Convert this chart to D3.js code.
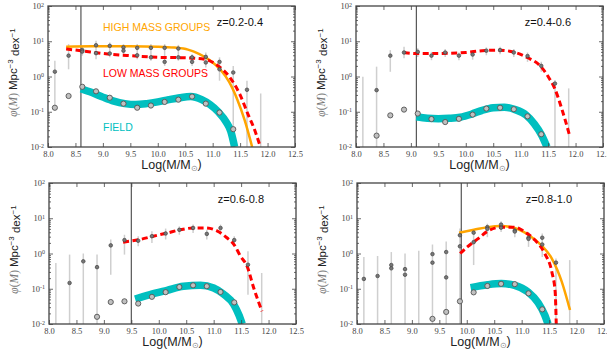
<!DOCTYPE html>
<html>
<head>
<meta charset="utf-8">
<script src="https://cdn.jsdelivr.net/npm/d3@7"></script>
<style>
  body { margin: 0; background: #fff; }
  svg { display: block; }
</style>
</head>
<body>
<div id="chart"></div>
<script>
// mass bin centres, shared by all panels
const massBins = [8.125, 8.375, 8.625, 8.875, 9.125, 9.375, 9.625, 9.875,
  10.125, 10.375, 10.625, 10.875, 11.125, 11.375, 11.625, 11.875]

const xTicks = [8.0, 8.5, 9.0, 9.5, 10.0, 10.5, 11.0, 11.5, 12.0, 12.5]
const yTicks = [0.01, 0.1, 1, 10, 100]
const zLabels = ["z=0.2-0.4", "z=0.4-0.6", "z=0.6-0.8", "z=0.8-1.0"]
const massCuts = [8.6, 9.1, 9.5, 9.9]

// z=0.2-0.4
const field1 = [0.13, 0.28, 0.51, 0.38, 0.25, 0.17, 0.13, 0.15, 0.19, 0.22, 0.27, 0.17, 0.095, 0.032, null, null]
const grpA1 = [1.37, 3.9, 5.6, 7.7, 7.4, 6.7, 6.5, 6.5, 6.5, 6.2, 3.5, 3.6, 2.6, 1.3, 0.42, null]
const grpB1 = [null, null, 5.1, 4.6, 4.5, 5.4, 4.0, 3.5, 2.6, 3.5, 2.6, 2.5, 1.6, null, null, null]
const errLo1 = [0.108, 1.6, 3.9, 3.1, 3.5, 4.0, 3.1, 2.8, 2.0, 2.8, 2.0, 1.8, 0.76, 0.01, 0.01, 0.01]
const errHi1 = [2.8, 8.3, 7.4, 10.3, 9.2, 8.3, 8.3, 8.3, 8.3, 7.9, 4.3, 4.8, 3.5, 2.0, 0.76, 0.33]
const fieldFit1 = [[8.6, 0.45], [8.8, 0.35], [9.0, 0.26], [9.2, 0.2], [9.4, 0.17], [9.6, 0.16], [9.8, 0.17],
  [10.0, 0.19], [10.2, 0.22], [10.4, 0.25], [10.6, 0.27], [10.8, 0.22], [10.95, 0.16], [11.1, 0.1],
  [11.25, 0.05], [11.33, 0.028], [11.4, 0.01]]
const highFit1 = [[8.33, 7.0], [8.8, 7.2], [9.5, 7.2], [10.0, 7.0], [10.3, 6.6], [10.55, 5.8], [10.75, 4.4],
  [10.95, 2.9], [11.15, 1.5], [11.3, 0.7], [11.45, 0.22], [11.58, 0.06], [11.72, 0.01]]
const lowFit1 = [[8.33, 6.0], [8.6, 5.4], [9.0, 4.5], [9.5, 3.9], [10.0, 3.5], [10.5, 3.4], [10.85, 3.1],
  [11.1, 2.0], [11.3, 1.0], [11.5, 0.3], [11.65, 0.08], [11.75, 0.035], [11.87, 0.01]]

// z=0.4-0.6
const field2 = [null, 0.021, 0.079, 0.115, 0.089, 0.062, 0.051, 0.063, 0.083, 0.123, 0.13, 0.118, 0.074, 0.023, null, null]
const grpA2 = [null, 0.41, 3.9, 4.8, 5.0, 3.9, 4.8, 3.9, 4.2, 5.4, 5.6, 4.8, 3.8, 2.0, 0.63, null]
const errLo2 = [0.01, 0.01, 1.36, 3.3, 3.6, 2.9, 3.6, 2.9, 3.0, 4.0, 4.3, 3.6, 2.6, 1.36, 0.01, 0.01]
const errHi2 = [0.98, 1.9, 5.6, 7.0, 6.3, 5.0, 6.0, 4.8, 5.6, 6.7, 7.0, 6.0, 4.8, 2.6, 0.79, 0.46]
const fieldFit2 = [[9.1, 0.072], [9.3, 0.065], [9.5, 0.063], [9.7, 0.065], [9.9, 0.07], [10.1, 0.085],
  [10.3, 0.11], [10.5, 0.13], [10.7, 0.135], [10.9, 0.115], [11.1, 0.08], [11.25, 0.045], [11.38, 0.022], [11.48, 0.01]]
const lowFit2 = [[8.87, 4.8], [9.1, 4.5], [9.5, 4.5], [10.0, 4.8], [10.3, 5.4], [10.6, 5.6], [10.9, 4.8],
  [11.13, 3.4], [11.37, 1.9], [11.5, 1.0], [11.62, 0.46], [11.75, 0.12], [11.9, 0.019]]

// z=0.6-0.8
const field3 = [null, null, null, 0.016, 0.042, 0.044, 0.038, 0.059, 0.080, 0.112, 0.125, 0.118, 0.081, 0.041, null, null]
const grpA3 = [null, 0.146, 0.6, 0.41, 1.7, 2.4, 2.3, 3.1, 3.7, 4.7, 5.3, 3.6, 5.3, 2.4, 0.48, null]
const errLo3 = [0.01, 0.01, 0.01, 0.01, 0.25, 0.93, 1.6, 2.0, 2.5, 3.4, 3.8, 2.5, 3.8, 1.6, 0.068, 0.01]
const errHi3 = [0.54, 0.93, 1.0, 0.93, 2.5, 3.4, 3.1, 4.3, 5.1, 5.9, 6.6, 4.7, 6.6, 3.1, 1.15, 0.28]
const fieldFit3 = [[9.57, 0.051], [9.84, 0.068], [10.15, 0.09], [10.45, 0.117], [10.76, 0.125], [11.0, 0.105],
  [11.18, 0.07], [11.37, 0.035], [11.46, 0.018], [11.52, 0.01]]
const lowFit3 = [[9.35, 2.1], [9.66, 2.5], [9.9, 3.1], [10.15, 3.8], [10.39, 4.7], [10.63, 5.3], [10.85, 5.3],
  [11.06, 4.4], [11.24, 2.8], [11.37, 1.8], [11.49, 0.83], [11.61, 0.43], [11.73, 0.105], [11.88, 0.023]]

// z=0.8-1.0
const field4 = [null, null, null, null, null, 0.014, 0.022, 0.044, 0.079, 0.12, 0.138, 0.135, 0.074, 0.026, null, null]
const grpA4 = [0.19, 0.23, 0.47, 0.36, null, 0.96, 1.1, 3.3, 3.9, 5.6, 6.6, 4.5, 2.8, 2.8, 0.55, null]
const grpB4 = [null, null, 0.38, 0.25, null, 0.55, 0.21, 1.6, 2.1, 5.0, 5.4, 4.2, 2.6, 1.8, null, null]
const errLo4 = [0.01, 0.01, 0.01, 0.01, 0.01, 0.01, 0.01, 0.01, 0.47, 2.9, 4.1, 2.9, 1.54, 0.8, 0.01, 0.01]
const errHi4 = [0.8, 0.85, 1.1, 1.0, 1.2, 1.8, 2.2, 5.1, 4.5, 7.0, 8.2, 5.6, 4.1, 3.7, 0.72, 0.65]
const fieldFit4 = [[10.07, 0.108], [10.38, 0.13], [10.63, 0.14], [10.87, 0.125], [11.12, 0.08], [11.3, 0.04],
  [11.42, 0.018], [11.48, 0.01]]
const highFit4 = [[9.86, 3.9], [10.13, 4.7], [10.38, 5.6], [10.63, 6.0], [10.87, 5.3], [11.12, 3.4],
  [11.36, 1.7], [11.55, 0.72], [11.73, 0.16], [11.88, 0.025]]
const lowFit4 = [[9.88, 1.0], [10.01, 1.54], [10.2, 2.6], [10.38, 4.3], [10.63, 5.6], [10.87, 5.6], [11.06, 4.1],
  [11.24, 2.4], [11.42, 1.0], [11.55, 0.3], [11.61, 0.083], [11.63, 0.01]]

const panels = [
  { left: 48, right: 295, top: 6, bottom: 147, field: field1, grp: [grpA1, grpB1], errLo: errLo1, errHi: errHi1,
    fieldFit: fieldFit1, highFit: highFit1, lowFit: lowFit1, legend: true },
  { left: 356, right: 603, top: 6, bottom: 147, field: field2, grp: [grpA2], errLo: errLo2, errHi: errHi2,
    fieldFit: fieldFit2, highFit: null, lowFit: lowFit2 },
  { left: 49, right: 296, top: 183, bottom: 324, field: field3, grp: [grpA3], errLo: errLo3, errHi: errHi3,
    fieldFit: fieldFit3, highFit: null, lowFit: lowFit3 },
  { left: 357, right: 604, top: 183, bottom: 324, field: field4, grp: [grpA4, grpB4], errLo: errLo4, errHi: errHi4,
    fieldFit: fieldFit4, highFit: highFit4, lowFit: lowFit4 }
]

const cyan = "#00bfbf", orange = "#ffa500", red = "#ff0000"
const frameColor = "#444"

const svg = d3.select("#chart").append("svg")
  .attr("width", 607)
  .attr("height", 354)

const minorTicks = []
;[0.01, 0.1, 1, 10].forEach(d => { for (let k = 2; k < 10; k++) minorTicks.push(d * k) })

panels.forEach((p, i) => {
  const x = d3.scaleLinear().domain([8, 12.5]).range([p.left, p.right])
  const y = d3.scaleLog().domain([0.01, 100]).range([p.bottom, p.top])
  const g = svg.append("g")

  const clipId = "clip" + i
  svg.append("clipPath").attr("id", clipId)
    .append("rect")
    .attr("x", p.left).attr("y", p.top)
    .attr("width", p.right - p.left).attr("height", p.bottom - p.top)

  const plot = g.append("g").attr("clip-path", `url(#${clipId})`)

  // error bars
  const bars = massBins.map((m, j) => ({ m, lo: p.errLo[j], hi: p.errHi[j] }))
  plot.append("g").selectAll("line")
    .data(bars)
    .join("line")
    .attr("x1", d => x(d.m)).attr("x2", d => x(d.m))
    .attr("y1", d => y(d.lo)).attr("y2", d => y(d.hi))
    .attr("stroke", "#cfcfcf")
    .attr("stroke-width", 1.5)

  // completeness limit
  plot.append("line")
    .attr("x1", x(massCuts[i])).attr("x2", x(massCuts[i]))
    .attr("y1", p.top).attr("y2", p.bottom)
    .attr("stroke", "#555")
    .attr("stroke-width", 1.2)

  const line = d3.line()
    .x(d => x(d[0]))
    .y(d => y(d[1]))
    .curve(d3.curveMonotoneX)

  plot.append("path")
    .attr("d", line(p.fieldFit))
    .attr("fill", "none")
    .attr("stroke", cyan)
    .attr("stroke-width", 7.5)

  if (p.highFit) {
    plot.append("path")
      .attr("d", line(p.highFit))
      .attr("fill", "none")
      .attr("stroke", orange)
      .attr("stroke-width", 2.5)
  }
  plot.append("path")
    .attr("d", line(p.lowFit))
    .attr("fill", "none")
    .attr("stroke", red)
    .attr("stroke-width", 3)
    .attr("stroke-dasharray", "6,3.5")

  // group points
  p.grp.forEach(arr => {
    plot.append("g").selectAll("circle")
      .data(massBins.map((m, j) => ({ m, v: arr[j] })).filter(d => d.v != null))
      .join("circle")
      .attr("cx", d => x(d.m))
      .attr("cy", d => y(d.v))
      .attr("r", 1.8)
      .attr("fill", "#777")
      .attr("stroke", "#444")
      .attr("stroke-width", 0.7)
  })

  // field points
  plot.append("g").selectAll("circle")
    .data(massBins.map((m, j) => ({ m, v: p.field[j] })).filter(d => d.v != null))
    .join("circle")
    .attr("cx", d => x(d.m))
    .attr("cy", d => y(d.v))
    .attr("r", 2.6)
    .attr("fill", "#c0c0c0")
    .attr("stroke", "#555")
    .attr("stroke-width", 0.9)

  // axes, ticks pointing inward on all four sides
  const xb = g.append("g")
    .attr("transform", `translate(0,${p.bottom})`)
    .call(d3.axisBottom(x).tickValues(xTicks).tickFormat(d3.format(".1f")).tickSizeInner(-4).tickSizeOuter(0).tickPadding(4))
  g.append("g")
    .attr("transform", `translate(0,${p.top})`)
    .call(d3.axisTop(x).tickValues(xTicks).tickFormat("").tickSizeInner(-4).tickSizeOuter(0))
  const yl = g.append("g")
    .attr("transform", `translate(${p.left},0)`)
    .call(d3.axisLeft(y).tickValues(yTicks).tickFormat("").tickSizeInner(-4).tickSizeOuter(0).tickPadding(4))
  g.append("g")
    .attr("transform", `translate(${p.right},0)`)
    .call(d3.axisRight(y).tickValues(yTicks).tickFormat("").tickSizeInner(-4).tickSizeOuter(0))
  g.append("g")
    .attr("transform", `translate(${p.left},0)`)
    .call(d3.axisLeft(y).tickValues(minorTicks).tickFormat("").tickSizeInner(-2).tickSizeOuter(0))
  g.append("g")
    .attr("transform", `translate(${p.right},0)`)
    .call(d3.axisRight(y).tickValues(minorTicks).tickFormat("").tickSizeInner(-2).tickSizeOuter(0))

  g.selectAll(".domain").remove()
  g.selectAll(".tick line").attr("stroke", frameColor).attr("stroke-width", 0.8)

  xb.selectAll("text")
    .attr("font-family", "Liberation Serif, serif")
    .attr("font-size", 8.5)
    .attr("fill", "#444")

  // y labels as 10^n
  yl.selectAll(".tick").each(function(d) {
    const t = d3.select(this).append("text")
      .attr("x", -4).attr("dy", "0.32em")
      .attr("text-anchor", "end")
      .attr("font-family", "Liberation Serif, serif")
      .attr("font-size", 8.5)
      .attr("fill", "#444")
    t.append("tspan").text("10")
    t.append("tspan").attr("dy", "-0.45em").attr("font-size", 6).text(Math.round(Math.log10(d)))
  })

  g.append("rect")
    .attr("x", p.left).attr("y", p.top)
    .attr("width", p.right - p.left).attr("height", p.bottom - p.top)
    .attr("fill", "none")
    .attr("stroke", frameColor)
    .attr("stroke-width", 1.3)

  // titles
  g.append("text")
    .attr("x", p.right - 32).attr("y", p.top + 20)
    .attr("text-anchor", "end")
    .attr("font-family", "Liberation Sans, Arial, sans-serif")
    .attr("font-size", 11)
    .attr("fill", "#111")
    .text(zLabels[i])

  const xt2 = g.append("text")
    .attr("x", (p.left + p.right) / 2).attr("y", p.bottom + 22)
    .attr("text-anchor", "middle")
    .attr("font-family", "Liberation Sans, Arial, sans-serif")
    .attr("font-size", 12.5)
    .attr("fill", "#222")
  xt2.append("tspan").text("Log(M/M")
  xt2.append("tspan").attr("dy", "0.3em").attr("font-size", 8).attr("fill", "#888").text("⊙")
  xt2.append("tspan").attr("dy", "-0.3em").text(")")

  const yt = g.append("text")
    .attr("transform", `translate(${p.left - 31},${(p.top + p.bottom) / 2 - 4}) rotate(-90)`)
    .attr("text-anchor", "middle")
    .attr("font-family", "Liberation Sans, Arial, sans-serif")
    .attr("font-size", 11.5)
    .attr("fill", "#222")
  yt.append("tspan").attr("font-family", "Liberation Serif, serif").attr("font-style", "italic").attr("fill", "#777").text("φ")
  yt.append("tspan").attr("font-family", "Liberation Serif, serif").attr("fill", "#777").text("(")
  yt.append("tspan").attr("font-family", "Liberation Serif, serif").attr("font-style", "italic").attr("fill", "#777").text("M")
  yt.append("tspan").attr("font-family", "Liberation Serif, serif").attr("fill", "#777").text(") ")
  yt.append("tspan").text("Mpc")
  yt.append("tspan").attr("dy", "-0.45em").attr("font-size", 8).text("−3")
  yt.append("tspan").attr("dy", "0.45em").text(" dex")
  yt.append("tspan").attr("dy", "-0.45em").attr("font-size", 8).text("−1")

  if (p.legend) {
    const legend = [["HIGH MASS GROUPS", orange, 31], ["LOW MASS GROUPS", red, 77], ["FIELD", cyan, 131]]
    g.selectAll(".legend")
      .data(legend)
      .join("text")
      .attr("x", 103).attr("y", d => p.top + d[2] - 6)
      .attr("font-family", "Liberation Sans, Arial, sans-serif")
      .attr("font-size", 10.5)
      .attr("fill", d => d[1])
      .text(d => d[0])
  }
})
</script>
</body>
</html>
